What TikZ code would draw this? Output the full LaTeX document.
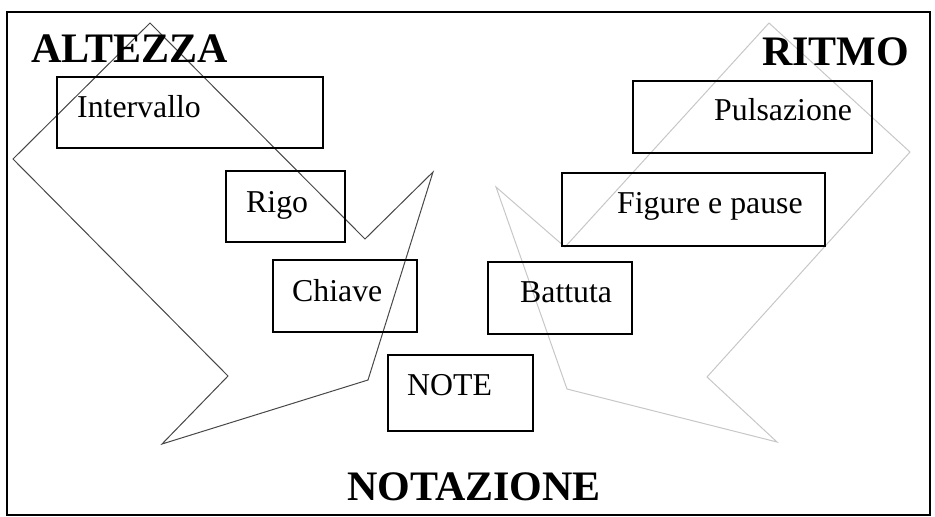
\documentclass[tikz,border=0pt]{standalone}
\usepackage{fontspec}
\setmainfont{Liberation Serif}
\begin{document}
\begin{tikzpicture}[x=1pt,y=-1pt,
  box/.style={draw=black,line width=1.6pt,rectangle,inner sep=0pt},
  lbl/.style={inner sep=0pt,anchor=base west,font=\fontsize{31.8}{32}\selectfont},
  title/.style={inner sep=0pt,anchor=base west,font=\fontsize{42}{42}\selectfont\bfseries},
  darkarrow/.style={draw=black!72,line width=1pt,line join=miter},
  lightarrow/.style={draw=black!22,line width=1pt,line join=miter}]
\useasboundingbox (0,0) rectangle (935,517);
\draw[line width=2pt] (7,12) rectangle (930,515);
% arrow shapes
\draw[darkarrow] (150,23) -- (365,239) -- (433,172) -- (368,380) -- (162,444) -- (228,376) -- (13,159) -- cycle;
\draw[lightarrow] (769,23) -- (910,152) -- (707,377) -- (777,442) -- (567,389) -- (496,187) -- (565,247) -- cycle;
% boxes
\node[box,minimum width=266pt,minimum height=71pt] (bint) at (190,112.5) {};
\node[box,minimum width=119pt,minimum height=71pt] (brig) at (285.5,206.5) {};
\node[box,minimum width=144pt,minimum height=72pt] (bchi) at (345,296) {};
\node[box,minimum width=145pt,minimum height=76pt] (bnot) at (460.5,393) {};
\node[box,minimum width=144pt,minimum height=72pt] (bbat) at (560,298) {};
\node[box,minimum width=239pt,minimum height=72pt] (bpul) at (752.5,117) {};
\node[box,minimum width=263pt,minimum height=73pt] (bfig) at (693.5,209.5) {};
% labels
\node[lbl] (tint) at (77,117) {Intervallo};
\node[lbl] (trig) at (246,212) {Rigo};
\node[lbl] (tchi) at (292,301) {Chiave};
\node[lbl] (tnot) at (407,395) {NOTE};
\node[lbl] (tbat) at (520,302) {Battuta};
\node[lbl] (tpul) at (714,120) {Pulsazione};
\node[lbl] (tfig) at (617,213) {Figure e pause};
% titles
\node[title] (alt) at (31,62) {ALTEZZA};
\node[title] (rit) at (762,65) {RITMO};
\node[title] (nota) at (347,500) {NOTAZIONE};
\end{tikzpicture}
\end{document}
